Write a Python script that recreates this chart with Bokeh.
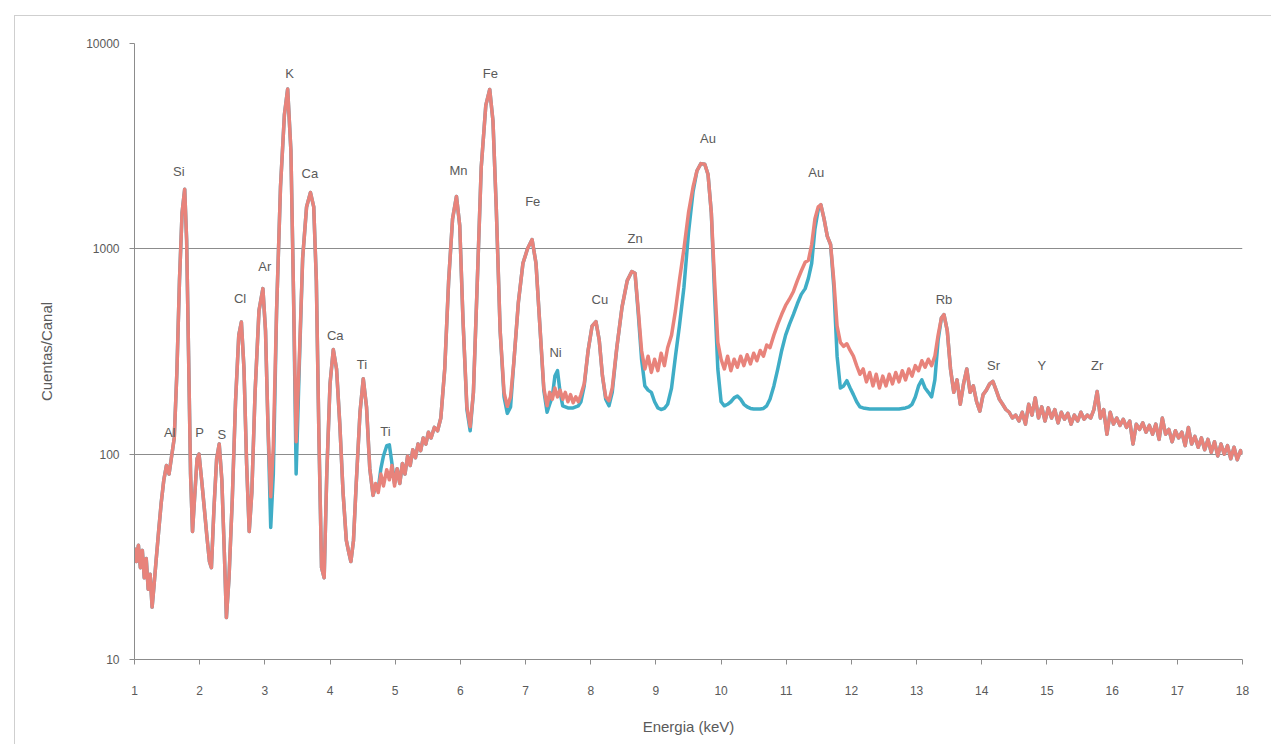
from bokeh.plotting import figure
from bokeh.models import ColumnDataSource, FixedTicker, PrintfTickFormatter
from bokeh.core.properties import value
from bokeh.embed import file_html
from bokeh.resources import INLINE

# ---------------- data ----------------
energy = [
    1.00, 1.03, 1.06, 1.09, 1.12, 1.15, 1.18, 1.21, 1.24, 1.27, 1.30, 1.33, 1.37, 1.41, 1.45, 1.49,
    1.53, 1.57, 1.61, 1.65, 1.69, 1.73, 1.77, 1.80, 1.83, 1.86, 1.89, 1.92, 1.96, 1.99, 2.03, 2.07,
    2.11, 2.15, 2.18, 2.22, 2.26, 2.30, 2.34, 2.38, 2.41, 2.45, 2.50, 2.55, 2.60, 2.64, 2.68, 2.72,
    2.76, 2.80, 2.85, 2.91, 2.97, 3.01, 3.05, 3.09, 3.13, 3.18, 3.24, 3.30, 3.35, 3.40, 3.44, 3.48,
    3.53, 3.58, 3.64, 3.70, 3.75, 3.79, 3.83, 3.87, 3.91, 3.95, 4.00, 4.05, 4.10, 4.15, 4.20, 4.25,
    4.29, 4.32, 4.36, 4.40, 4.46, 4.51, 4.56, 4.61, 4.66, 4.70, 4.74, 4.78, 4.82, 4.87, 4.91, 4.95,
    4.99, 5.03, 5.07, 5.11, 5.15, 5.19, 5.23, 5.27, 5.31, 5.35, 5.39, 5.43, 5.47, 5.51, 5.55, 5.60,
    5.65, 5.70, 5.76, 5.82, 5.88, 5.94, 5.99, 6.04, 6.10, 6.15, 6.20, 6.26, 6.32, 6.39, 6.45, 6.50,
    6.55, 6.61, 6.67, 6.72, 6.77, 6.82, 6.89, 6.96, 7.03, 7.10, 7.16, 7.22, 7.28, 7.33, 7.37, 7.41,
    7.45, 7.49, 7.53, 7.57, 7.61, 7.65, 7.69, 7.73, 7.77, 7.81, 7.85, 7.90, 7.96, 8.02, 8.08, 8.13,
    8.18, 8.23, 8.28, 8.33, 8.40, 8.48, 8.56, 8.63, 8.68, 8.73, 8.78, 8.83, 8.88, 8.93, 8.98, 9.03,
    9.08, 9.13, 9.18, 9.24, 9.30, 9.36, 9.43, 9.50, 9.57, 9.63, 9.69, 9.75, 9.80, 9.85, 9.90, 9.95,
    10.00, 10.05, 10.10, 10.15, 10.20, 10.25, 10.30, 10.35, 10.40, 10.45, 10.50, 10.55, 10.60, 10.65,
    10.70, 10.75, 10.81, 10.87, 10.93, 10.99, 11.05, 11.11, 11.17, 11.23, 11.29, 11.34, 11.39, 11.44,
    11.49, 11.53, 11.58, 11.63, 11.68, 11.73, 11.78, 11.83, 11.88, 11.93, 11.98, 12.03, 12.08, 12.13,
    12.18, 12.23, 12.28, 12.33, 12.38, 12.43, 12.48, 12.53, 12.58, 12.63, 12.68, 12.73, 12.78, 12.83,
    12.88, 12.93, 12.98, 13.03, 13.08, 13.13, 13.18, 13.23, 13.28, 13.33, 13.38, 13.42, 13.47, 13.52,
    13.57, 13.62, 13.67, 13.72, 13.77, 13.82, 13.87, 13.92, 13.97, 14.02, 14.07, 14.12, 14.17, 14.22,
    14.27, 14.32, 14.37, 14.42, 14.47, 14.52, 14.57, 14.62, 14.67, 14.72, 14.77, 14.82, 14.87, 14.92,
    14.97, 15.02, 15.07, 15.12, 15.17, 15.22, 15.27, 15.32, 15.37, 15.42, 15.47, 15.52, 15.57, 15.62,
    15.67, 15.72, 15.77, 15.82, 15.87, 15.92, 15.97, 16.02, 16.07, 16.12, 16.17, 16.22, 16.27, 16.32,
    16.37, 16.42, 16.47, 16.52, 16.57, 16.62, 16.67, 16.72, 16.77, 16.82, 16.87, 16.92, 16.97, 17.02,
    17.07, 17.12, 17.17, 17.22, 17.27, 17.32, 17.37, 17.42, 17.47, 17.52, 17.57, 17.62, 17.67, 17.72,
    17.77, 17.82, 17.87, 17.92, 17.97, 18.00,
]

red_counts = [
    35, 30, 36, 28, 34, 25, 31, 22, 26, 18, 23, 30, 42, 58, 75, 88,
    80, 98, 120, 250, 700, 1500, 1950, 1100, 300, 80, 42, 60, 95, 100, 75, 55,
    40, 30, 28, 55, 95, 112, 75, 32, 16, 25, 60, 180, 380, 440, 260, 90,
    42, 65, 200, 500, 640, 400, 130, 62, 110, 500, 2000, 4500, 6000, 3000, 600, 115,
    300, 900, 1600, 1880, 1600, 700, 120, 28, 25, 80, 220, 323, 260, 140, 65, 38,
    33, 30, 38, 70, 160, 233, 170, 85, 63, 72, 65, 80, 70, 84, 75, 88,
    70, 85, 72, 90, 80, 98, 88, 105, 96, 112, 104, 120, 112, 128, 120, 135,
    130, 150, 260, 700, 1400, 1800, 1300, 450, 170, 136, 200, 700, 2500, 5000, 5970, 4200,
    1600, 400, 200, 171, 190, 280, 550, 850, 1000, 1110, 850, 420, 210, 172, 200, 185,
    210, 190, 205, 185, 200, 180, 195, 178, 190, 180, 195, 220, 320, 420, 442, 360,
    240, 190, 182, 210, 330, 520, 700, 775, 760, 500, 320, 260, 300, 250, 290, 255,
    310, 270, 330, 380, 500, 700, 1000, 1500, 2000, 2400, 2600, 2580, 2300, 1500, 700, 350,
    290, 260, 300, 255, 290, 265, 300, 270, 305, 275, 310, 285, 320, 300,
    340, 330, 380, 430, 480, 530, 570, 620, 700, 780, 860, 880, 1050, 1400,
    1600, 1640, 1400, 1150, 1050, 700, 420, 350, 335, 345, 320, 300, 270, 245,
    260, 225, 250, 215, 245, 210, 240, 215, 245, 220, 250, 225, 255, 230,
    260, 240, 270, 255, 285, 265, 290, 270, 300, 380, 460, 478, 400, 260,
    200, 230, 175, 220, 260, 200, 215, 180, 162, 195, 205, 220, 226, 205,
    185, 175, 165, 160, 150, 155, 145, 160, 140, 175, 155, 188, 150, 170,
    145, 168, 150, 165, 142, 160, 148, 158, 140, 155, 145, 160, 148, 155,
    150, 165, 202, 150, 165, 125, 160, 140, 150, 138, 148, 135, 145, 112,
    140, 132, 142, 128, 138, 125, 140, 118, 150, 125, 132, 115, 130, 120,
    128, 110, 135, 112, 122, 108, 120, 105, 118, 102, 115, 98, 112, 100,
    110, 95, 108, 94, 104, 100,
]

blue_counts = [
    35, 30, 36, 28, 34, 25, 31, 22, 26, 18, 23, 30, 42, 58, 75, 88,
    80, 98, 120, 250, 700, 1500, 1950, 1100, 300, 80, 42, 60, 95, 100, 75, 55,
    40, 30, 28, 55, 95, 112, 75, 32, 16, 25, 60, 180, 380, 440, 260, 90,
    42, 65, 200, 500, 640, 400, 130, 44, 80, 500, 2000, 4500, 6000, 3000, 600, 80,
    280, 900, 1600, 1880, 1600, 700, 120, 28, 25, 80, 220, 323, 260, 140, 65, 38,
    33, 30, 38, 70, 160, 233, 170, 85, 63, 70, 68, 85, 98, 110, 111, 90,
    72, 85, 72, 90, 80, 98, 88, 105, 96, 112, 104, 120, 112, 128, 120, 135,
    130, 150, 260, 700, 1400, 1800, 1300, 450, 165, 130, 200, 700, 2500, 5000, 5970, 4200,
    1600, 400, 190, 158, 170, 280, 550, 850, 1000, 1110, 850, 420, 205, 160, 175, 190,
    240, 255, 200, 172, 170, 168, 168, 168, 170, 172, 180, 215, 320, 420, 442, 360,
    240, 185, 172, 200, 330, 520, 700, 775, 760, 480, 290, 215, 205, 200, 180, 168,
    165, 167, 175, 210, 300, 420, 650, 1200, 1900, 2400, 2600, 2580, 2300, 1500, 600, 260,
    180, 172, 175, 180, 188, 192, 185, 175, 170, 167, 166, 166, 166, 167,
    172, 185, 215, 260, 320, 380, 430, 480, 540, 600, 640, 720, 850, 1250,
    1550, 1640, 1400, 1150, 1050, 650, 300, 210, 215, 228, 210, 195, 180, 170,
    168, 167, 166, 166, 166, 166, 166, 166, 166, 166, 166, 166, 167, 168,
    170, 175, 190, 215, 230, 210, 200, 190, 230, 360, 460, 478, 400, 260,
    200, 230, 175, 220, 260, 200, 215, 180, 162, 195, 205, 220, 226, 205,
    185, 175, 165, 160, 150, 155, 145, 160, 140, 175, 155, 188, 150, 170,
    145, 168, 150, 165, 142, 160, 148, 158, 140, 155, 145, 160, 148, 155,
    150, 165, 202, 150, 165, 125, 160, 140, 150, 138, 148, 135, 145, 112,
    140, 132, 142, 128, 138, 125, 140, 118, 150, 125, 132, 115, 130, 120,
    128, 110, 135, 112, 122, 108, 120, 105, 118, 102, 115, 98, 112, 100,
    110, 95, 108, 94, 104, 100,
]

label_text = ["Si", "Al", "P", "S", "Cl", "Ar", "K", "Ca", "Ca", "Ti", "Ti", "Mn", "Fe", "Fe",
              "Ni", "Cu", "Zn", "Au", "Au", "Rb", "Sr", "Y", "Zr"]
label_energy = [1.68, 1.54, 2.00, 2.34, 2.62, 3.00, 3.38, 3.69, 4.08, 4.49, 4.85, 5.97, 6.46, 7.11,
                7.46, 8.14, 8.68, 9.80, 11.46, 13.42, 14.18, 14.92, 15.77]
label_counts = [2380, 127, 127, 124, 573, 820, 7140, 2330, 378, 273, 129, 2400, 7140, 1700,
                313, 567, 1122, 3445, 2355, 567, 270, 270, 270]

x_ticks = list(range(1, 19))
y_ticks = [10, 100, 1000, 10000]

# ---------------- figure ----------------
RED = "#E8837B"
BLUE = "#3FADC6"
GRAY = "#5a5a5a"
FONT = "Liberation Sans"

p = figure(width=1257, height=729, output_backend="svg", toolbar_location=None,
           y_axis_type="log", x_range=(1, 18), y_range=(10, 10000),
           min_border_left=119, min_border_right=30, min_border_top=27, min_border_bottom=86)
p.margin = (15, 0, 0, 14)
p.styles = {"border-left": "1px solid #cfcfcf", "border-top": "1px solid #cfcfcf"}
p.background_fill_color = "white"
p.border_fill_color = "white"
p.outline_line_color = None

src = ColumnDataSource(dict(e=energy, red=red_counts, blue=blue_counts))
p.line("e", "blue", source=src, color=BLUE, line_width=3.5, line_join="round")
p.line("e", "red", source=src, color=RED, line_width=3.5, line_join="round")

lab = ColumnDataSource(dict(x=label_energy, y=label_counts, t=label_text))
p.text("x", "y", text="t", source=lab, text_align="center", text_baseline="middle",
       text_font=value(FONT), text_font_size="13px", text_color=GRAY)

p.xgrid.visible = False
p.ygrid.ticker = FixedTicker(ticks=y_ticks)
p.ygrid.grid_line_color = "#8c8c8c"
p.ygrid.grid_line_width = 1

p.xaxis.ticker = FixedTicker(ticks=x_ticks)
p.yaxis.ticker = FixedTicker(ticks=y_ticks)
p.yaxis.formatter = PrintfTickFormatter(format="%d")
for ax in (p.xaxis[0], p.yaxis[0]):
    ax.axis_line_color = "#8c8c8c"
    ax.major_tick_line_color = "#8c8c8c"
    ax.major_tick_out = 5
    ax.major_tick_in = 0
    ax.minor_tick_line_color = None
    ax.major_label_text_font = FONT
    ax.major_label_text_font_size = "12px"
    ax.major_label_text_color = GRAY
    ax.axis_label_text_font = FONT
    ax.axis_label_text_font_size = "15px"
    ax.axis_label_text_font_style = "normal"
    ax.axis_label_text_color = GRAY

p.xaxis.axis_label = "Energia (keV)"
p.yaxis.axis_label = "Cuentas/Canal"
p.xaxis.major_label_standoff = 21
p.xaxis.axis_label_standoff = 20
p.yaxis.major_label_standoff = 10
p.yaxis.axis_label_standoff = 28

open("out.html", "w").write(file_html(p, INLINE))
